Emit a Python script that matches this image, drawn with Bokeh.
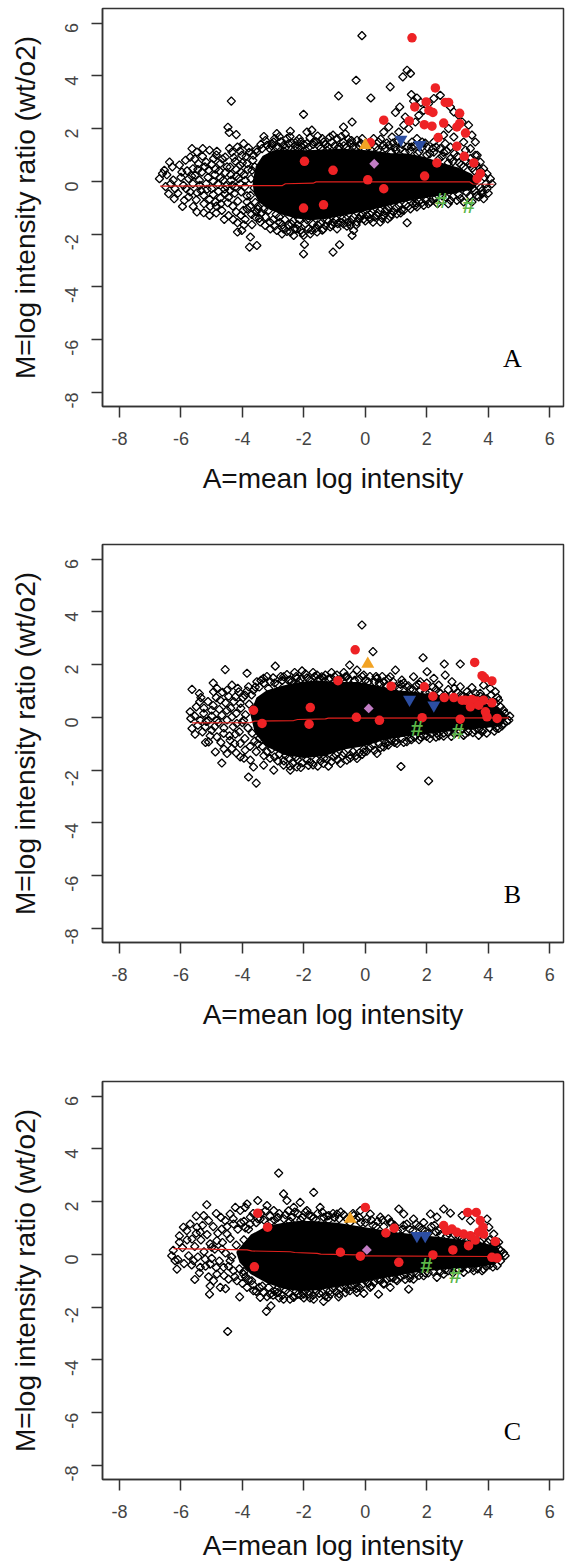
import math
from bokeh.plotting import figure
from bokeh.layouts import column
from bokeh.models import FixedTicker, Range1d, Label
from bokeh.core.properties import value
from bokeh.embed import file_html
from bokeh.resources import INLINE

# ---------------- data ----------------
TICKS = [-8, -6, -4, -2, 0, 2, 4, 6]
X_TITLE = "A=mean log intensity"
Y_TITLE = "M=log intensity ratio (wt/o2)"
LETTERS = ["A", "B", "C"]

# ---- panel A ----
A_CORE_X = [-3.62, -3.52, -3.31, -2.98, -2.44, -1.90, -1.36, -0.81, -0.27, 0.27, 0.81, 1.36, 1.90, 2.44, 2.98, 3.42, 3.65,
            3.47, 2.98, 2.44, 1.90, 1.36, 0.81, 0.27, -0.27, -0.81, -1.36, -1.79, -2.23, -2.66, -3.09, -3.42, -3.58]
A_CORE_M = [-0.03, 0.55, 0.92, 1.12, 1.15, 1.12, 1.15, 1.18, 1.15, 1.10, 1.02, 1.00, 0.88, 0.66, 0.48, 0.25, -0.03,
            -0.25, -0.38, -0.48, -0.57, -0.70, -0.85, -1.00, -1.13, -1.27, -1.38, -1.42, -1.35, -1.22, -1.02, -0.76, -0.43]
A_PTS = [(-0.11, 5.52), (1.36, 4.21), (1.22, 3.96), (1.47, 4.09), (-0.30, 3.83), (0.81, 3.58), (-0.87, 3.24), (0.18, 3.16),
         (-4.36, 3.04), (-2.01, 2.54), (-4.47, 2.05), (-4.43, 1.85), (-4.20, 1.77), (-0.43, 2.25), (-0.71, 2.06), (0.98, 2.61),
         (1.12, 2.82), (1.50, 3.29), (1.68, 3.16), (1.81, 2.99), (1.57, 3.04), (1.30, 2.44), (-2.88, 1.81), (-2.44, 1.90),
         (-1.90, 1.87), (-1.74, 1.94), (-2.23, 1.52), (-2.98, 1.49),
         (0.60, 1.87), (0.76, 2.06), (0.87, 1.68), (1.09, 1.87), (1.25, 2.13), (1.41, 2.00), (1.63, 2.25), (1.74, 2.50),
         (1.90, 2.69), (2.06, 2.95), (2.23, 3.14), (2.44, 3.26), (2.77, 2.82), (2.88, 2.63), (3.04, 2.50), (3.15, 2.25),
         (3.36, 2.13), (3.47, 1.75), (3.58, 1.49), (3.42, 1.24), (3.26, 1.18), (2.77, 1.30), (2.60, 1.43), (2.44, 1.24),
         (2.23, 1.11), (2.01, 1.30), (1.85, 1.49), (1.68, 1.62), (1.52, 1.49), (1.36, 1.30), (1.14, 1.24), (0.98, 1.30),
         (0.76, 1.37), (0.60, 1.37), (0.43, 1.49), (0.27, 1.62), (-0.27, 1.56), (-0.49, 1.43), (-0.71, 1.49), (-0.92, 1.62),
         (-1.09, 1.49), (-1.30, 1.39), (-1.52, 1.34), (-1.68, 1.49), (-1.90, 1.43), (-2.06, 1.30), (-2.28, 1.34), (-2.50, 1.43),
         (-2.66, 1.37), (-2.82, 1.30), (-3.04, 1.43), (-3.20, 1.37), (-3.36, 1.24), (-3.53, 1.11), (-3.64, 0.99), (2.55, 1.75),
         (2.71, 2.00), (2.88, 1.68), (3.20, 1.49), (2.23, 1.49), (3.64, 0.99), (3.42, 0.86), (2.77, 0.86),
         (3.58, 0.99), (3.74, 0.73), (3.85, 0.48), (3.96, 0.29), (4.07, 0.10), (4.12, -0.09), (3.96, -0.28), (3.80, -0.47),
         (3.69, -0.59), (3.47, -0.78), (3.20, -0.78), (2.98, -0.72), (3.85, -0.66),
         (-3.58, -1.35), (-3.42, -1.54), (-3.26, -1.67), (-3.09, -1.80), (-2.88, -1.86), (-2.66, -1.80), (-2.44, -1.92),
         (-2.23, -1.80), (-2.01, -2.05), (-1.79, -1.99), (-1.57, -1.92), (-1.36, -1.80), (-1.14, -1.73), (-0.92, -1.80),
         (-0.71, -1.61), (-0.49, -1.67), (-0.27, -1.54), (-0.05, -1.42), (0.16, -1.42), (0.38, -1.29), (0.60, -1.29),
         (0.81, -1.35), (1.03, -1.23), (1.25, -1.10), (1.47, -1.04), (1.68, -0.97), (1.90, -0.91), (2.12, -0.78), (2.77, -0.72),
         (-1.98, -2.39), (-2.01, -2.75), (-1.05, -2.68), (-0.84, -2.40), (-0.43, -2.05), (-0.38, -1.86), (1.36, -1.57),
         (1.63, -0.91), (-3.74, -2.11), (-3.53, -2.43), (-3.77, -2.49), (-4.02, -1.86), (-4.16, -1.92), (-2.71, -1.99),
         (-2.33, -2.05), (0.73, -1.42), (0.49, -1.54),
         (-6.70, 0.10), (-6.54, 0.42), (-6.37, 0.73), (-6.46, 0.25), (-6.33, -0.09), (-6.40, -0.47), (-6.19, -0.28),
         (-6.22, -0.66), (-5.97, 0.35), (-5.89, -0.72), (-5.75, -0.59), (-5.83, -0.28), (-5.64, 1.24), (-5.70, 0.92),
         (-5.48, 1.11), (-5.29, 1.24), (-5.07, 1.18), (-4.83, 1.14), (-4.94, 0.86), (-5.18, 0.73), (-5.43, 0.67),
         (-5.61, 0.48), (-5.75, 0.10), (-5.54, 0.23), (-5.32, 0.35), (-5.10, 0.42), (-4.88, 0.46), (-4.72, 0.67),
         (-4.56, 0.92), (-4.34, 1.11), (-4.16, 1.30), (-3.96, 1.43), (-3.80, 1.27), (-4.02, 0.99), (-4.23, 0.76),
         (-4.40, 0.54), (-4.56, 0.33), (-4.72, 0.13), (-4.94, 0.00), (-5.18, -0.09), (-5.39, -0.15), (-5.61, -0.09),
         (-5.48, -0.43), (-5.26, -0.53), (-5.07, -0.68), (-4.88, -0.78), (-4.72, -0.63), (-4.56, -0.47), (-4.40, -0.34),
         (-4.23, -0.22), (-4.07, -0.09), (-3.91, 0.04), (-4.05, 0.35), (-4.20, 0.20), (-4.37, 0.04), (-4.53, -0.18),
         (-4.78, -0.38), (-5.00, -0.28), (-5.48, -1.16), (-5.26, -1.19), (-5.07, -1.29), (-4.85, -0.94), (-4.67, -1.10),
         (-4.48, -0.81), (-4.31, -0.94), (-4.20, -1.16), (-4.05, -1.29), (-3.85, -1.04), (-4.59, -1.44), (-4.16, -1.57),
         (-3.91, -1.44), (-3.69, -1.64), (-3.85, -0.78), (-3.74, -0.53), (-3.69, 0.42), (-3.85, 0.67), (-4.07, 0.61)]
A_HALO = [(-6.60, 0.30), (-6.50, -0.20), (-6.28, 0.55), (-6.25, 0.05), (-6.10, -0.45), (-6.05, 0.62), (-6.00, 0.15),
          (-5.92, -0.15), (-5.85, 0.80), (-5.80, 0.40), (-5.70, -0.40), (-5.65, 0.20), (-5.55, 0.85), (-5.50, -0.70),
          (-5.45, 0.45), (-5.40, 0.05), (-5.35, -0.35), (-5.30, 0.95), (-5.22, 0.55), (-5.15, -0.30), (-5.12, 0.15),
          (-5.05, -0.95), (-5.00, 0.65), (-4.95, -0.50), (-4.90, 0.25), (-4.85, 1.00), (-4.80, -0.10), (-4.75, 0.40),
          (-4.70, -0.85), (-4.65, 0.85), (-4.62, 0.05), (-4.58, -0.30), (-4.50, 0.55), (-4.45, -0.60), (-4.42, 1.25),
          (-4.38, 0.25), (-4.33, -0.15), (-4.28, 0.90), (-4.25, -0.45), (-4.20, 0.45), (-4.15, -0.75), (-4.12, 0.10),
          (-4.08, 1.15), (-4.04, -0.40), (-4.00, 0.70), (-3.97, -1.10), (-3.95, 0.25), (-3.92, -0.20), (-3.88, 0.95),
          (-3.85, -0.55), (-3.82, 0.45), (-3.78, 1.10), (-3.76, -0.95), (-3.72, 0.10), (-3.70, -1.25), (-3.66, 0.80),
          (-3.62, -0.25), (-3.60, 0.55), (-3.58, -0.80), (-3.55, 1.20), (-3.50, -1.05), (-4.45, -1.30), (-4.30, -1.45),
          (-3.95, -1.65), (-4.85, -1.20), (-5.25, -0.85), (-5.60, -0.95), (-5.95, -0.95),
          (-3.40, 1.40), (-3.25, 1.55), (-3.12, 1.25), (-2.95, 1.62), (-2.90, 1.30), (-2.75, 1.50), (-2.60, 1.28),
          (-2.55, 1.62), (-2.38, 1.45), (-2.20, 1.25), (-2.15, 1.62), (-2.00, 1.40), (-1.85, 1.28), (-1.80, 1.65),
          (-1.60, 1.50), (-1.45, 1.25), (-1.40, 1.62), (-1.22, 1.30), (-1.15, 1.68), (-1.00, 1.35), (-0.85, 1.30),
          (-0.78, 1.70), (-0.60, 1.30), (-0.55, 1.60), (-0.40, 1.32), (-0.20, 1.35), (-0.10, 1.62), (0.10, 1.30),
          (0.35, 1.30), (0.50, 1.60), (0.65, 1.25), (0.90, 1.45), (1.00, 1.18), (1.20, 1.40), (1.45, 1.15), (1.60, 1.35),
          (1.75, 1.12), (1.95, 1.45), (2.10, 1.05), (2.30, 1.30), (2.50, 0.95), (2.65, 1.15), (2.85, 0.75), (3.00, 0.95),
          (3.12, 0.62), (3.30, 0.75), (3.48, 0.50), (3.60, 0.65), (3.75, 0.40), (3.88, 0.15), (3.92, -0.10),
          (-3.50, -0.95), (-3.38, -1.20), (-3.25, -1.35), (-3.15, -1.10), (-3.00, -1.45), (-2.90, -1.25), (-2.78, -1.55),
          (-2.62, -1.45), (-2.50, -1.65), (-2.35, -1.50), (-2.20, -1.65), (-2.10, -1.85), (-1.95, -1.60), (-1.85, -1.80),
          (-1.70, -1.62), (-1.62, -1.78), (-1.45, -1.60), (-1.30, -1.68), (-1.20, -1.52), (-1.05, -1.55), (-0.95, -1.45),
          (-0.80, -1.55), (-0.62, -1.42), (-0.55, -1.55), (-0.38, -1.35), (-0.20, -1.40), (-0.10, -1.25), (0.05, -1.30),
          (0.22, -1.18), (0.30, -1.35), (0.48, -1.10), (0.65, -1.12), (0.75, -0.98), (0.92, -1.15), (1.10, -0.92),
          (1.18, -1.08), (1.32, -0.88), (1.55, -0.85), (1.75, -0.75), (1.98, -0.72), (2.20, -0.65), (2.35, -0.85),
          (2.62, -0.60), (2.85, -0.58), (3.05, -0.50), (3.30, -0.42), (3.55, -0.35), (3.75, -0.25), (3.62, -0.55),
          (4.00, -0.45),
          (-3.30, 1.70), (-3.05, 1.35), (-2.80, 1.70), (-2.65, 1.15), (-2.45, 1.70), (-2.30, 1.20), (-2.10, 1.50),
          (-1.95, 1.20), (-1.70, 1.40), (-1.55, 1.72), (-1.35, 1.50), (-1.25, 1.18), (-1.05, 1.75), (-0.90, 1.25),
          (-0.70, 1.35), (-0.65, 1.80), (-0.45, 1.55), (-0.30, 1.28), (-0.15, 1.45), (0.00, 1.20), (0.20, 1.45),
          (0.40, 1.18), (0.70, 1.45), (0.85, 1.10), (1.05, 1.50), (1.30, 1.10), (1.50, 1.30), (1.70, 1.05), (1.85, 1.30),
          (2.00, 1.00), (2.20, 1.25), (2.40, 0.85), (2.55, 1.10), (2.70, 0.70), (2.90, 1.05), (3.05, 0.70), (3.20, 0.55),
          (3.40, 0.65), (3.55, 0.40),
          (-3.55, -1.15), (-3.45, -1.40), (-3.30, -1.05), (-3.10, -1.55), (-2.95, -1.70), (-2.80, -1.35), (-2.70, -1.65),
          (-2.55, -1.90), (-2.40, -1.62), (-2.30, -1.80), (-2.15, -1.45), (-2.05, -1.95), (-1.90, -1.45), (-1.75, -1.85),
          (-1.55, -1.65), (-1.40, -1.85), (-1.25, -1.45), (-1.10, -1.65), (-0.90, -1.60), (-0.75, -1.42), (-0.60, -1.70),
          (-0.45, -1.45), (-0.30, -1.65), (-0.15, -1.30), (0.00, -1.50), (0.15, -1.25), (0.25, -1.55), (0.40, -1.20),
          (0.55, -1.40), (0.70, -1.05), (0.85, -1.25), (1.00, -1.00), (1.15, -1.20), (1.40, -0.95), (1.65, -0.82),
          (1.85, -0.80), (2.05, -0.85), (2.30, -0.62), (2.50, -0.55), (2.70, -0.85), (3.10, -0.65), (3.40, -0.55),
          (3.50, -0.25), (3.80, -0.35)]
A_RED = [(1.52, 5.44), (2.28, 3.54), (2.60, 2.99), (2.71, 2.99), (1.98, 3.01), (1.61, 2.82), (2.07, 2.69), (2.20, 2.61),
         (3.07, 2.58), (0.60, 2.32), (1.43, 2.29), (1.92, 2.15), (2.17, 2.09), (2.55, 2.21), (2.98, 2.06), (3.07, 2.19),
         (3.26, 1.83), (2.37, 1.66), (2.98, 1.33), (3.22, 0.95), (2.33, 0.70), (3.53, 0.70), (3.74, 0.29), (3.64, 0.10),
         (1.93, 0.20), (0.08, 0.06), (0.60, -0.28), (-1.05, 0.42), (-1.98, 0.76), (-2.01, -1.01), (-1.36, -0.89), (0.16, 1.47)]
A_UP = [(0.00, 1.37)]
A_DIAM = [(0.29, 0.67)]
A_DOWN = [(1.16, 1.59), (1.77, 1.39)]
A_HASH = [(2.47, -0.72), (3.36, -0.91)]
A_LOESS_X = [-6.68, -2.70, -2.60, -1.70, -1.60, 3.40, 3.50, 4.18]
A_LOESS_M = [-0.18, -0.16, -0.09, -0.07, -0.02, -0.02, -0.10, -0.11]

# ---- panel B ----
B_CORE_X = [-3.70, -3.50, -3.20, -2.66, -2.12, -1.57, -0.92, -0.27, 0.38, 1.03, 1.68, 2.33, 2.98, 3.64, 4.29, 4.58,
            4.40, 3.85, 3.20, 2.55, 1.90, 1.25, 0.60, -0.05, -0.71, -1.36, -2.01, -2.66, -3.20, -3.55]
B_CORE_M = [0.15, 0.72, 0.96, 1.15, 1.28, 1.34, 1.28, 1.28, 1.15, 0.97, 0.90, 0.78, 0.66, 0.54, 0.36, 0.02,
            -0.27, -0.36, -0.42, -0.50, -0.59, -0.68, -0.80, -1.04, -1.16, -1.42, -1.48, -1.36, -1.05, -0.57]
B_PTS = [(-0.11, 3.50), (0.25, 2.49), (-2.93, 1.94), (-4.56, 1.81), (-2.06, 1.76), (1.88, 2.26), (3.09, 2.02), (2.57, 2.02),
         (-0.51, 1.98), (-5.64, 1.06), (-5.39, 0.59), (-5.70, 0.21), (-5.68, -0.04), (-5.64, -0.42), (-5.54, -0.64),
         (-5.37, -0.11), (-5.21, -0.36), (-5.10, -0.11), (-5.26, 0.15), (-5.00, 0.27), (-4.94, 0.97), (-4.83, 1.10),
         (-4.72, 0.65), (-4.50, 1.03), (-4.34, 1.22), (-4.23, 0.78), (-4.12, 0.97), (-4.07, 0.53), (-3.91, 0.84),
         (-3.85, 1.67), (-3.80, 1.16), (-4.83, -0.11), (-4.67, 0.08), (-4.50, 0.27), (-4.34, 0.02), (-4.18, -0.23),
         (-3.96, -0.11), (-5.10, -0.93), (-4.88, -1.31), (-4.67, -1.73), (-5.00, -0.49), (-4.83, -0.74), (-4.61, -0.61),
         (-4.40, -0.87), (-4.23, -0.64), (-4.07, -0.99), (-3.91, -1.24), (-4.07, -1.50), (-4.34, -1.18), (-4.50, -1.37),
         (-3.80, -2.26), (-3.55, -2.49), (-3.74, -1.62), (-3.64, -1.88), (-3.31, -1.81), (-2.98, -2.00), (-2.66, -1.81),
         (-2.44, -2.00), (-2.23, -1.88), (-1.79, -1.69), (-1.36, -1.75), (-1.03, -1.50), (-0.81, -1.75), (-0.49, -1.43),
         (-0.27, -1.56), (-0.05, -1.31), (0.38, -1.37), (0.60, -1.12), (0.76, -0.93), (1.03, -0.99), (1.16, -1.86),
         (2.06, -2.41), (1.47, -0.80), (1.90, -0.68), (2.33, -0.61), (2.55, -0.71), (3.20, -0.68), (3.69, -0.68),
         (3.85, -0.49), (4.34, -0.42), (4.50, -0.23), (4.67, -0.11), (4.50, 0.27), (4.34, 0.65), (4.23, 0.97), (4.07, 1.10),
         (3.85, 1.22), (3.74, 0.91), (3.47, 1.13), (3.31, 0.97), (3.09, 1.16), (2.82, 1.35), (2.60, 1.60), (2.39, 1.22),
         (2.23, 1.48), (2.01, 1.73), (1.79, 1.35), (1.57, 1.54), (1.36, 1.16), (1.19, 1.41), (0.98, 1.79), (0.81, 1.54),
         (0.60, 1.35), (0.38, 1.48), (-0.05, 1.60), (-0.27, 1.79), (-0.65, 1.54), (-0.92, 1.60), (-1.14, 1.48),
         (-1.42, 1.54), (-1.57, 1.60), (-1.79, 1.41), (-2.23, 1.48), (-2.44, 1.41), (-2.66, 1.54), (-3.09, 1.35),
         (-3.31, 1.48), (-3.53, 1.35), (-3.64, 1.03)]
B_HALO = [(-5.55, 0.05), (-5.50, 0.40), (-5.45, -0.30), (-5.35, 0.75), (-5.30, -0.55), (-5.25, 0.35), (-5.18, -0.15),
          (-5.12, 0.60), (-5.05, -0.70), (-5.00, 0.05), (-4.95, 0.45), (-4.90, -0.35), (-4.85, 0.75), (-4.78, -0.20),
          (-4.75, 0.30), (-4.70, -0.95), (-4.65, 0.95), (-4.60, -0.40), (-4.55, 0.55), (-4.50, -0.10), (-4.45, 0.80),
          (-4.42, -0.70), (-4.38, 0.35), (-4.30, -0.35), (-4.28, 0.60), (-4.25, -1.00), (-4.20, 0.15), (-4.15, 1.10),
          (-4.10, -0.55), (-4.05, 0.35), (-4.00, -0.20), (-3.98, 0.75), (-3.92, -0.80), (-3.90, 0.10), (-3.85, 1.00),
          (-3.82, -0.40), (-3.78, 0.50), (-3.75, -1.10), (-3.70, 0.85), (-3.68, -0.60), (-3.65, 0.30), (-3.60, -0.90),
          (-3.58, 1.15), (-3.55, -1.30), (-4.60, -1.20), (-4.20, -1.35), (-3.95, -1.55), (-5.20, -0.95), (-5.40, 0.90),
          (-4.95, 1.30),
          (-3.45, 1.15), (-3.30, 1.30), (-3.15, 1.10), (-3.00, 1.50), (-2.85, 1.25), (-2.70, 1.40), (-2.55, 1.62),
          (-2.40, 1.35), (-2.25, 1.55), (-2.10, 1.45), (-1.95, 1.65), (-1.85, 1.45), (-1.65, 1.55), (-1.50, 1.45),
          (-1.30, 1.60), (-1.20, 1.45), (-1.00, 1.55), (-0.80, 1.45), (-0.70, 1.70), (-0.55, 1.45), (-0.40, 1.60),
          (-0.20, 1.45), (0.00, 1.40), (0.15, 1.55), (0.30, 1.35), (0.50, 1.25), (0.55, 1.55), (0.70, 1.20), (0.90, 1.35),
          (1.10, 1.10), (1.25, 1.30), (1.45, 1.05), (1.65, 1.20), (1.80, 1.02), (2.00, 1.30), (2.10, 0.95), (2.30, 1.05),
          (2.45, 0.90), (2.70, 1.05), (2.80, 0.85), (3.00, 0.95), (3.20, 0.80), (3.40, 0.85), (3.55, 0.72), (3.75, 0.80),
          (3.95, 0.70), (4.10, 0.85), (4.25, 0.55), (4.40, 0.40), (4.55, 0.15),
          (-3.45, -0.80), (-3.35, -1.10), (-3.20, -1.30), (-3.05, -1.20), (-2.95, -1.50), (-2.80, -1.40), (-2.65, -1.65),
          (-2.50, -1.55), (-2.35, -1.75), (-2.20, -1.60), (-2.05, -1.72), (-1.90, -1.62), (-1.70, -1.80), (-1.60, -1.60),
          (-1.45, -1.65), (-1.25, -1.58), (-1.10, -1.68), (-0.95, -1.42), (-0.75, -1.45), (-0.60, -1.62), (-0.40, -1.30),
          (-0.20, -1.35), (-0.05, -1.20), (0.15, -1.15), (0.30, -1.25), (0.45, -1.00), (0.65, -0.98), (0.85, -0.85),
          (1.00, -0.88), (1.20, -0.80), (1.35, -0.92), (1.60, -0.75), (1.75, -0.85), (2.00, -0.72), (2.15, -0.62),
          (2.40, -0.70), (2.70, -0.58), (2.90, -0.62), (3.10, -0.52), (3.35, -0.55), (3.55, -0.48), (3.80, -0.55),
          (4.05, -0.40), (4.20, -0.52), (4.45, -0.32), (4.60, -0.15), (4.70, 0.05),
          (-3.40, 1.40), (-3.20, 1.55), (-2.95, 1.30), (-2.75, 1.55), (-2.50, 1.40), (-2.30, 1.70), (-2.15, 1.35),
          (-1.90, 1.50), (-1.70, 1.70), (-1.55, 1.40), (-1.35, 1.50), (-1.10, 1.70), (-0.90, 1.40), (-0.60, 1.55),
          (-0.35, 1.40), (-0.10, 1.55), (0.10, 1.35), (0.35, 1.55), (0.45, 1.30), (0.75, 1.45), (0.95, 1.15), (1.15, 1.25),
          (1.40, 1.20), (1.55, 1.05), (1.75, 1.25), (1.95, 0.95), (2.20, 1.15), (2.40, 0.95), (2.60, 0.85), (2.90, 1.10),
          (3.10, 0.85), (3.30, 0.75), (3.60, 0.90), (3.85, 0.75), (4.00, 0.55), (4.30, 0.75),
          (-3.50, -1.00), (-3.30, -1.45), (-3.10, -1.55), (-2.85, -1.65), (-2.60, -1.45), (-2.45, -1.85), (-2.25, -1.50),
          (-2.10, -1.90), (-1.85, -1.82), (-1.55, -1.85), (-1.35, -1.55), (-1.20, -1.85), (-0.90, -1.60), (-0.70, -1.35),
          (-0.50, -1.55), (-0.30, -1.45), (-0.10, -1.40), (0.05, -1.28), (0.25, -1.05), (0.50, -1.15), (0.75, -1.05),
          (0.95, -0.95), (1.25, -0.95), (1.50, -0.85), (1.80, -0.75), (2.10, -0.80), (2.30, -0.75), (2.55, -0.60),
          (2.80, -0.72), (3.00, -0.55), (3.25, -0.62), (3.50, -0.58), (3.70, -0.45), (3.95, -0.60), (4.25, -0.40)]
B_RED = [(-0.33, 2.56), (3.56, 2.08), (3.80, 1.58), (3.88, 1.50), (4.12, 1.38), (-0.89, 1.39), (0.84, 1.18), (1.92, 1.16),
         (2.20, 0.80), (2.57, 0.75), (2.88, 0.75), (3.15, 0.65), (3.26, 0.65), (3.47, 0.68), (3.64, 0.62), (3.85, 0.65),
         (4.12, 0.55), (3.42, 0.40), (3.69, 0.46), (3.96, 0.02), (4.29, -0.04), (3.91, 0.21), (-3.64, 0.27), (-3.36, -0.23),
         (-1.79, 0.37), (-1.83, -0.26), (-0.29, 0.00), (0.46, -0.11), (1.85, -0.01), (3.09, -0.07)]
B_UP = [(0.08, 2.02)]
B_DIAM = [(0.11, 0.34)]
B_DOWN = [(1.44, 0.68), (2.23, 0.46)]
B_HASH = [(1.68, -0.42), (3.01, -0.55)]
B_LOESS_X = [-5.64, -3.74, -3.60, -2.33, -2.20, -1.30, -1.20, 4.67]
B_LOESS_M = [-0.21, -0.20, -0.14, -0.12, -0.08, -0.06, -0.03, -0.02]

# ---- panel C ----
C_CORE_X = [-4.15, -3.70, -3.20, -2.66, -2.12, -1.57, -0.92, -0.27, 0.38, 1.03, 1.68, 2.33, 2.98, 3.64, 4.25, 4.45,
            4.15, 3.64, 2.98, 2.33, 1.68, 1.03, 0.38, -0.27, -0.92, -1.57, -2.12, -2.66, -3.20, -3.70, -4.05]
C_CORE_M = [0.08, 0.70, 1.02, 1.14, 1.22, 1.20, 1.14, 1.02, 0.90, 0.78, 0.69, 0.61, 0.52, 0.42, 0.26, -0.11,
            -0.34, -0.43, -0.48, -0.54, -0.62, -0.75, -0.88, -1.06, -1.18, -1.30, -1.34, -1.25, -1.03, -0.70, -0.28]
C_PTS = [(-2.82, 3.08), (-1.68, 2.35), (-2.66, 2.29), (-5.16, 1.88), (-3.85, 1.91), (-3.50, 2.04), (-4.48, -2.92),
         (-5.07, -1.51), (-4.09, -1.61), (-3.22, -2.16), (-3.07, -1.95), (-1.36, -1.78), (-0.87, -1.61), (-0.05, -1.48),
         (0.43, -1.51), (1.41, -1.32), (1.57, -0.94), (-2.33, -1.63),
         (-6.30, -0.05), (-6.19, -0.24), (-6.13, -0.56), (-6.05, 0.46), (-5.92, 1.03), (-5.81, 0.90), (-5.64, 0.58),
         (-5.48, 1.03), (-5.37, 0.84), (-5.26, 1.47), (-5.10, 1.28), (-5.59, -0.24), (-5.37, -0.49), (-5.21, -0.18),
         (-5.05, -0.37), (-5.00, 0.27), (-4.83, 0.52), (-4.67, 0.96), (-4.56, 1.28), (-4.40, 1.53), (-4.23, 1.78),
         (-4.07, 1.66), (-3.91, 1.78), (-4.29, 1.15), (-4.50, 0.77), (-4.67, 0.20), (-4.83, -0.75), (-4.61, -0.49),
         (-4.40, -0.24), (-4.29, -0.62), (-4.45, -0.94), (-4.94, -1.00), (-4.72, -1.25), (-4.18, -1.00), (-3.96, -0.75),
         (-3.85, -1.25), (-3.64, -1.38), (-3.42, -1.63), (-3.09, -1.51), (-2.88, -1.32), (-2.66, -1.70), (-2.01, -1.51),
         (-1.68, -1.70), (-1.14, -1.51), (-0.60, -1.32), (-0.27, -1.44), (0.16, -1.25), (0.60, -1.13), (0.81, -1.25),
         (1.03, -1.00), (1.90, -0.81), (2.33, -0.87), (2.55, -0.75), (3.20, -0.68), (3.53, -0.62), (3.85, -0.56),
         (4.29, -0.43), (4.40, 0.14), (4.34, 0.46), (4.18, 0.77), (4.02, 1.03), (3.96, 1.34), (3.42, 1.28), (3.15, 1.47),
         (2.77, 1.56), (2.55, 1.72), (2.33, 1.41), (2.12, 1.53), (1.90, 1.21), (1.57, 1.34), (1.25, 1.53), (1.09, 1.72),
         (0.81, 1.21), (0.49, 1.41), (0.16, 1.53), (-0.16, 1.66), (-0.38, 1.47), (-0.92, 1.53), (-1.19, 1.47),
         (-1.47, 1.78), (-1.90, 1.66), (-2.12, 1.97), (-2.33, 1.78), (-2.55, 2.04), (-2.98, 1.66), (-3.20, 1.85),
         (-3.74, 1.41), (-3.42, 1.34)]
C_HALO = [(-6.25, 0.15), (-6.10, -0.20), (-6.05, 0.70), (-5.95, 0.25), (-5.90, -0.35), (-5.80, 0.55), (-5.75, -0.05),
          (-5.70, 1.15), (-5.65, -0.40), (-5.55, 0.30), (-5.50, 0.80), (-5.45, -0.10), (-5.40, -0.70), (-5.35, 0.55),
          (-5.30, 1.10), (-5.25, 0.10), (-5.20, -0.45), (-5.15, 0.75), (-5.10, -0.85), (-5.05, 0.40), (-5.00, -0.15),
          (-4.95, 1.05), (-4.90, 0.20), (-4.85, -0.50), (-4.80, 0.80), (-4.75, -0.25), (-4.70, 1.40), (-4.65, 0.45),
          (-4.60, -0.80), (-4.55, 0.05), (-4.50, 1.05), (-4.45, -0.45), (-4.40, 0.60), (-4.35, -0.10), (-4.30, 1.35),
          (-4.25, -0.85), (-4.20, 0.35), (-4.15, 0.95), (-4.10, -0.55), (-4.05, 1.20), (-4.00, -1.10), (-3.95, 0.55),
          (-5.55, -0.95), (-5.05, -1.20), (-4.55, -1.30), (-4.85, 1.55), (-5.50, 1.45),
          (-3.95, 1.25), (-3.80, 0.95), (-3.65, 1.55), (-3.55, 1.20), (-3.40, 1.55), (-3.30, 1.30), (-3.10, 1.45),
          (-2.95, 1.30), (-2.80, 1.55), (-2.65, 1.35), (-2.50, 1.65), (-2.40, 1.40), (-2.20, 1.55), (-2.05, 1.40),
          (-1.85, 1.50), (-1.70, 1.35), (-1.55, 1.55), (-1.35, 1.40), (-1.20, 1.30), (-1.05, 1.55), (-0.85, 1.35),
          (-0.70, 1.50), (-0.50, 1.20), (-0.30, 1.35), (-0.15, 1.20), (0.05, 1.35), (0.25, 1.10), (0.40, 1.25),
          (0.60, 1.05), (0.75, 1.35), (0.95, 1.10), (1.20, 0.95), (1.35, 1.15), (1.55, 0.90), (1.75, 1.05), (1.95, 0.88),
          (2.15, 1.05), (2.30, 0.85), (2.45, 0.75), (2.70, 0.80), (3.05, 0.68), (3.30, 0.55), (3.55, 0.65), (3.80, 0.55),
          (4.00, 0.45), (4.15, 0.30), (4.35, 0.20), (4.50, 0.05),
          (-3.95, -0.65), (-3.80, -0.95), (-3.65, -1.15), (-3.45, -1.25), (-3.30, -1.45), (-3.15, -1.25), (-3.00, -1.55),
          (-2.85, -1.45), (-2.70, -1.55), (-2.50, -1.45), (-2.35, -1.60), (-2.20, -1.52), (-2.00, -1.65), (-1.85, -1.50),
          (-1.70, -1.55), (-1.50, -1.48), (-1.30, -1.58), (-1.15, -1.38), (-0.95, -1.42), (-0.80, -1.30), (-0.65, -1.45),
          (-0.45, -1.22), (-0.30, -1.30), (-0.10, -1.15), (0.10, -1.10), (0.30, -1.05), (0.50, -1.00), (0.70, -0.95),
          (0.90, -0.90), (1.15, -0.85), (1.30, -0.95), (1.50, -0.78), (1.75, -0.80), (2.05, -0.70), (2.45, -0.65),
          (2.70, -0.62), (3.05, -0.58), (3.35, -0.55), (3.65, -0.55), (3.95, -0.45), (4.15, -0.48), (4.40, -0.25),
          (4.55, -0.05),
          (-3.90, 1.00), (-3.75, 1.15), (-3.50, 1.35), (-3.25, 1.65), (-3.05, 1.25), (-2.85, 1.40), (-2.60, 1.50),
          (-2.45, 1.25), (-2.30, 1.60), (-2.10, 1.30), (-1.95, 1.60), (-1.75, 1.45), (-1.60, 1.30), (-1.40, 1.60),
          (-1.25, 1.45), (-1.00, 1.40), (-0.80, 1.60), (-0.60, 1.35), (-0.40, 1.55), (-0.20, 1.40), (0.00, 1.20),
          (0.20, 1.30), (0.35, 1.05), (0.55, 1.30), (0.85, 1.20), (1.05, 0.90), (1.25, 1.10), (1.45, 0.95), (1.65, 1.15),
          (1.85, 0.95), (2.05, 0.80), (2.25, 1.10), (2.40, 0.90), (2.65, 0.70), (2.90, 0.75), (3.15, 0.62), (3.45, 0.58),
          (3.75, 0.45), (4.05, 0.55), (4.25, 0.40),
          (-3.90, -0.85), (-3.70, -1.00), (-3.55, -1.40), (-3.35, -1.20), (-3.20, -1.60), (-2.95, -1.40), (-2.80, -1.65),
          (-2.60, -1.38), (-2.45, -1.70), (-2.25, -1.40), (-2.10, -1.55), (-1.95, -1.38), (-1.80, -1.65), (-1.60, -1.40),
          (-1.40, -1.45), (-1.20, -1.62), (-1.05, -1.30), (-0.85, -1.50), (-0.70, -1.22), (-0.50, -1.38), (-0.35, -1.15),
          (-0.20, -1.25), (0.00, -1.00), (0.20, -1.20), (0.40, -0.95), (0.60, -1.10), (0.80, -0.88), (1.00, -0.95),
          (1.25, -0.78), (1.45, -0.90), (1.65, -0.72), (1.95, -0.70), (2.20, -0.65), (2.60, -0.58), (2.85, -0.70),
          (3.15, -0.52), (3.50, -0.50), (3.80, -0.62), (4.05, -0.40), (4.30, -0.15)]
C_RED = [(-3.50, 1.56), (-3.18, 1.03), (-3.61, -0.47), (0.00, 1.78), (0.67, 0.81), (0.94, 0.99), (-0.81, 0.08),
         (-0.16, -0.07), (1.09, -0.30), (2.20, -0.02), (2.85, 0.17), (4.23, 0.49), (4.12, -0.11), (4.29, -0.14),
         (3.33, 1.59), (3.61, 1.59), (3.74, 1.28), (3.83, 1.03), (2.55, 1.09), (2.64, 0.90), (2.82, 0.96), (2.98, 0.84),
         (3.20, 0.77), (3.42, 0.71), (3.69, 0.84), (3.85, 0.77), (3.36, 0.33), (3.58, 0.54)]
C_UP = [(-0.49, 1.34)]
C_DIAM = [(0.05, 0.17)]
C_DOWN = [(1.68, 0.71), (1.95, 0.71)]
C_HASH = [(1.99, -0.43), (2.93, -0.81)]
C_LOESS_X = [-6.24, -3.85, -3.70, -2.44, -2.30, -1.57, -1.45, -0.27, -0.15, 4.23]
C_LOESS_M = [0.22, 0.17, 0.13, 0.10, 0.07, 0.04, 0.01, -0.02, -0.06, -0.08]

# ---------------- styling ----------------
FONT = "Liberation Sans"
AXIS_COL = "#333333"
RED = "#ee2225"


def xs(pairs):
    return [p[0] for p in pairs]


def ms(pairs):
    return [p[1] for p in pairs]


def make_panel(core_x, core_m, pts, halo, red, up, diam, down, hashes, lo_x, lo_m, letter, height, title_standoff):
    p = figure(width=565, height=height,
               x_range=Range1d(-8.553, 6.45), y_range=Range1d(-8.53, 6.55),
               output_backend="svg", toolbar_location=None,
               min_border_left=102, min_border_right=2, min_border_top=8,
               min_border_bottom=height - 8 - 398)
    p.xgrid.visible = False
    p.ygrid.visible = False
    p.background_fill_color = "white"
    p.border_fill_color = "white"
    p.outline_line_color = AXIS_COL
    p.outline_line_width = 1.5

    for ax in (p.xaxis[0], p.yaxis[0]):
        ax.ticker = FixedTicker(ticks=TICKS)
        ax.major_label_overrides = {t: str(t) for t in TICKS}
        ax.major_tick_out = 11
        ax.major_tick_in = 0
        ax.minor_tick_out = 0
        ax.minor_tick_in = 0
        ax.major_tick_line_color = AXIS_COL
        ax.major_tick_line_width = 1.5
        ax.axis_line_color = AXIS_COL
        ax.axis_line_width = 1.5
        ax.major_label_text_font = FONT
        ax.major_label_text_font_size = "18px"
        ax.major_label_text_color = "#444444"
        ax.axis_label_text_font = FONT
        ax.axis_label_text_font_size = "28px"
        ax.axis_label_text_font_style = "normal"
        ax.axis_label_text_color = "#111111"
    p.xaxis.major_label_standoff = 14
    p.xaxis.axis_label = X_TITLE
    p.xaxis.axis_label_standoff = title_standoff
    p.yaxis.major_label_orientation = math.pi / 2
    p.yaxis.major_label_standoff = 20
    p.yaxis.axis_label = Y_TITLE
    p.yaxis.axis_label_standoff = 15

    # dense core of the cloud
    p.patch(core_x, core_m, fill_color="black", line_color="black", line_width=3)
    # individual probes (open diamonds)
    all_pts = pts + halo
    p.scatter(xs(all_pts), ms(all_pts), marker="square", angle=math.pi / 4, size=5.8,
              fill_color=None, line_color="black", line_width=1.3)
    # loess curve
    p.line(lo_x, lo_m, line_color="#e0201c", line_width=1.2)
    # highlighted genes
    p.scatter(xs(red), ms(red), marker="circle", size=9.5, fill_color=RED, line_color=None)
    p.scatter(xs(up), ms(up), marker="triangle", size=13, fill_color="#f2a324", line_color=None)
    p.scatter(xs(diam), ms(diam), marker="square", angle=math.pi / 4, size=7,
              fill_color="#c17cc4", line_color=None)
    p.scatter(xs(down), ms(down), marker="inverted_triangle", size=13, fill_color="#2c4ea2", line_color=None)
    p.text(xs(hashes), ms(hashes), text=["#"] * len(hashes), text_font=value(FONT),
           text_font_style="bold", text_font_size="22px", text_color="#5cb648",
           text_align="center", text_baseline="middle")

    p.add_layout(Label(x=4.79, y=-6.73, text=letter, text_font="Liberation Serif",
                       text_font_size="26px", text_align="center", text_baseline="alphabetic",
                       text_color="black"))
    return p


pA = make_panel(A_CORE_X, A_CORE_M, A_PTS, A_HALO, A_RED, A_UP, A_DIAM, A_DOWN, A_HASH,
                A_LOESS_X, A_LOESS_M, LETTERS[0], 536, 15)
pB = make_panel(B_CORE_X, B_CORE_M, B_PTS, B_HALO, B_RED, B_UP, B_DIAM, B_DOWN, B_HASH,
                B_LOESS_X, B_LOESS_M, LETTERS[1], 537, 15)
pC = make_panel(C_CORE_X, C_CORE_M, C_PTS, C_HALO, C_RED, C_UP, C_DIAM, C_DOWN, C_HASH,
                C_LOESS_X, C_LOESS_M, LETTERS[2], 495, 9)

layout = column(pA, pB, pC, spacing=0)
open("out.html", "w").write(file_html(layout, INLINE))
